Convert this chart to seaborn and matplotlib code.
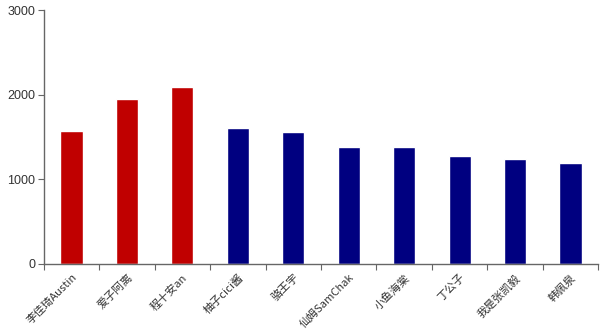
import matplotlib
matplotlib.use("Agg")
import matplotlib.pyplot as plt
import seaborn as sns
import pandas as pd
import numpy as np

names = ["李佳琦Austin", "爱子阿离", "程十安an", "柚子cici酱", "骆王宇",
         "仙姆SamChak", "小鱼海棠", "丁公子", "我是张凯毅", "韩佩泉"]
values = [1570, 1948, 2090, 1606, 1558, 1381, 1381, 1275, 1240, 1192]
groups = ["top", "top", "top", "rest", "rest", "rest", "rest", "rest", "rest", "rest"]
palette = {"top": "#c00000", "rest": "#000080"}
yticks = [0, 1000, 2000, 3000]

sns.set_style("white")
plt.rcParams['font.family'] = ['Noto Sans CJK SC', 'DejaVu Sans']

df = pd.DataFrame({"name": names, "value": values, "group": groups})

fig = plt.figure(figsize=(6, 3.34), dpi=100)
ax = fig.add_axes([0.073, 0.21, 0.924, 0.76])
sns.barplot(data=df, x="name", y="value", hue="group", palette=palette,
            dodge=False, width=0.4, legend=False, ax=ax, saturation=1)

n = len(names)
ax.set_xlim(-0.5, n - 0.5)
ax.set_ylim(0, 3000)
ax.set_yticks(yticks)
ax.set_yticklabels([str(v) for v in yticks], fontsize=9, color="#333333",
                   family=['Liberation Sans', 'DejaVu Sans'])
ax.set_xticks(np.arange(-0.5, n, 1.0))
ax.set_xticklabels([])
ax.set_xticks(np.arange(n), minor=True)
ax.set_xticklabels(names, minor=True, rotation=45, ha="right", rotation_mode="anchor",
                   fontsize=8, color="#333333")
ax.tick_params(axis="x", which="minor", length=0, pad=6)
ax.tick_params(axis="x", which="major", length=4, color="#666666", direction="out", bottom=True)
ax.tick_params(axis="y", length=4, color="#666666", direction="out", left=True, pad=2)
ax.set_xlabel("")
ax.set_ylabel("")
for s in ["top", "right"]:
    ax.spines[s].set_visible(False)
for s in ["left", "bottom"]:
    ax.spines[s].set_color("#666666")
    ax.spines[s].set_linewidth(1)

fig.savefig("out.png", dpi=100)
